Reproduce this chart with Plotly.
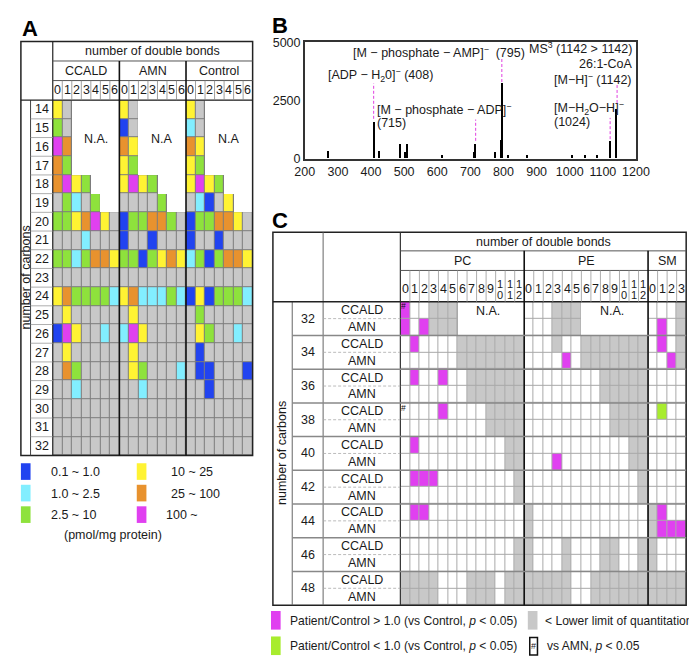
import plotly.graph_objects as go

W, H = 697, 657
FONT = "Liberation Sans, Arial, sans-serif"
TXT = "#1a1a1a"

def px(x):
    return x / W

def py(y):
    return 1 - y / H

# ---------------- Panel A data ----------------
A_groups = ["CCALD", "AMN", "Control"]
A_na_labels = ["N.A.", "N.A", "N.A"]
A_carbons = list(range(14, 33))
A_bonds = list(range(0, 7))
# codes: n = N.A., x = not detected (grey), b/c/g/y/o/m = concentration class
A_ccald = [
    "yxnnnnn", "gxnnnnn", "monnnnn", "ognnnnn", "omygnnn", "xgcxgnn",
    "ggyomyx", "xxxcxxx", "ggcgooy", "xxxxxxx", "yoggggc", "xyxxxxx",
    "bmyxxcx", "xyxxxxx", "xogxxxx", "xxcxxxx", "xxxxxxx", "xxxxxxx", "xxxxxxx",
]
A_amn = [
    "yxnnnnn", "bxnnnnn", "oynnnnn", "ygnnnnn", "ymygnnn", "xxxxgnn",
    "bggoogx", "bxxbxxx", "ggbgyoy", "xxxxxxx", "yocccgc", "xyxxxxx",
    "cmyxxxx", "xyxxxxx", "xygxxxc", "xxcxxxx", "xxxxxxx", "xxxxxxx", "xxxxxxx",
]
A_control = [
    "yxnnnnn", "cxnnnnn", "oynnnnn", "ygnnnnn", "ymygnnn", "xcbxynn",
    "bggooyx", "bxxbxxx", "cgbgooy", "xxxxxxx", "bybgggc", "xgxxxxx",
    "xygxxcx", "xbxxxxx", "xbbxxxb", "xxbxxxx", "xxxxxxx", "xxxxxxx", "xxxxxxx",
]
A_legend_labels = ["0.1 ~ 1.0", "1.0 ~ 2.5", "2.5 ~ 10", "10 ~ 25", "25 ~ 100", "100 ~"]
A_codes = ["x", "b", "c", "g", "y", "o", "m"]
A_colors = ["#C8C8C8", "#2143F0", "#82EEFF", "#8EE23C", "#FFF333", "#E8922E", "#E040F0"]

# ---------------- Panel B data ----------------
B_mz = [270, 408, 423, 486, 503, 507, 614, 712, 715, 775, 791, 795, 812, 872,
        1006, 1045, 1083, 1122, 1140]
B_int = [300, 1550, 300, 600, 280, 600, 140, 280, 600, 280, 780, 3250, 140, 140,
         140, 140, 140, 750, 2140]
B_mark_mz = [408, 716, 795, 1122, 1143]
B_mark_lo = [1720, 775, 3300, 845, 2400]
B_mark_hi = [3240, 1690, 4300, 1760, 3170]
B_xticks = list(range(200, 1201, 100))
B_yticks = [0, 2500, 5000]

# ---------------- Panel C data ----------------
C_carbons = [32, 34, 36, 38, 40, 42, 44, 46, 48]
C_groups = ["CCALD", "AMN"]
C_classes = ["PC", "PE", "SM"]
C_class_bonds = [13, 13, 4]
# codes: w = n.s., x = < LLOQ, m = Patient/Control > 1, g = Patient/Control < 1, n = N.A.
C_PC = [
    "mwwxxxnnnnnnn", "mwmxxxnnnnnnn", "wmwwwwxxxxxxx", "wwwwwwxxxxxxx",
    "wmwwmwwxxxxxx", "wwwwwwwxxxxxx", "wwwwmwwwwxxxx", "wwwwwwwwwxxxx",
    "wmwwwwwwwwwxx", "wwwwwwwwwwwxx", "wmmmwwwwwwwwx", "wwwwwwwwwwwwx",
    "wmmwwwwwwwwww", "wwwwwwwwwwwww", "wwwwwwwwwwwwx", "wwwwwwwwwwwwx",
    "xxxxwwwxxxwxx", "xxxxwwwxxxwxx",
]
C_PE = [
    "wwwxxxnnnnnnn", "wwwxxxnnnnnnn", "wwwxwwxxxxxxx", "wwwwmwxxxxxxx",
    "wwwwwwwwxxxxx", "wwwwwwwwxxxxx", "wwwwwwwwwxxxx", "wwwwwwwwwxxxx",
    "wwwwwwwwwwwxx", "wwwmwwwwwwwxx", "wwwwwwwwwwwwx", "wwwwwwwwwwwwx",
    "xwwwwwwwwwwww", "xwwwwwwwwwwww", "xwwwxwwwxxwwx", "xwwwxwwwxxwwx",
    "xxxxxwwxxxxxx", "xxxxxwwxxxxxx",
]
C_SM = [
    "wwwx", "wmwx", "wmwx", "wwmx", "wwww", "wwww", "wgww", "wwww", "wwww",
    "wwww", "wwww", "wwww", "xmww", "xmmm", "xwww", "xwww", "xxxx", "xxxx",
]
C_hash = [(0, 0), (6, 0)]  # (row index, column index)
C_codes = ["w", "x", "m", "g"]
C_colors = ["#FFFFFF", "#C8C8C8", "#E040F0", "#A8EC2E"]

# ---------------- helpers ----------------
shapes = []
annotations = []

def line(x0, y0, x1, y1, color="#000", w=1.0, dash=None, layer="above"):
    d = dict(type="line", xref="paper", yref="paper", x0=px(x0), y0=py(y0),
             x1=px(x1), y1=py(y1), line=dict(color=color, width=w), layer=layer)
    if dash:
        d["line"]["dash"] = dash
    shapes.append(d)

def rect(x0, y0, x1, y1, fill=None, color=None, w=0, layer="above"):
    shapes.append(dict(type="rect", xref="paper", yref="paper", x0=px(x0), y0=py(y0),
                       x1=px(x1), y1=py(y1), fillcolor=fill or "rgba(0,0,0,0)",
                       line=dict(color=color or "rgba(0,0,0,0)", width=w), layer=layer))

def text(x, y, s, size=12.5, anchor="center", angle=0, bold=False, color=TXT):
    annotations.append(dict(xref="paper", yref="paper", x=px(x), y=py(y), text=s,
                            showarrow=False, xanchor=anchor, yanchor="middle",
                            textangle=angle, borderpad=0,
                            font=dict(family=FONT, size=size, color=color,
                                      weight="bold" if bold else "normal")))

def discrete_scale(colors):
    n = len(colors)
    cs = []
    for i, c in enumerate(colors):
        cs.append([i / n, c])
        cs.append([(i + 1) / n, c])
    return cs

fig = go.Figure()

# ================= Panel A =================
AX0, AX1, AY0, AY1 = 36, 243, 87, 450
a_ncol = len(A_groups) * len(A_bonds)
a_cw = (AX1 - AX0) / a_ncol
a_rh = (AY1 - AY0) / len(A_carbons)

zA, zA_na = [], []
for r in range(len(A_carbons)):
    row, rowna = [], []
    for grp in (A_ccald, A_amn, A_control):
        for ch in grp[r]:
            if ch == "n":
                row.append(None)
                rowna.append(1)
            else:
                row.append(A_codes.index(ch))
                rowna.append(None)
    zA.append(row)
    zA_na.append(rowna)

rect(AX0, AY0, AX1, AY1, fill="#7C7C7C", layer="below")
fig.add_trace(go.Heatmap(z=zA, x=list(range(a_ncol)), y=A_carbons, xaxis="x", yaxis="y",
                         colorscale=discrete_scale(A_colors), zmin=-0.5,
                         zmax=len(A_colors) - 0.5, showscale=False, xgap=1, ygap=1,
                         hoverinfo="skip"))
fig.add_trace(go.Heatmap(z=zA_na, x=list(range(a_ncol)), y=A_carbons, xaxis="x", yaxis="y",
                         colorscale=[[0, "#FFFFFF"], [1, "#FFFFFF"]], showscale=False,
                         hoverinfo="skip"))

# table chrome A
rect(3, 27, AX1, AY1, color="#222", w=1.5)
line(AX0, 27, AX0, AY1, "#222", 1.2)
line(13, AY0, 13, AY1, "#444", 1)
line(3, AY0, AX1, AY0, "#222", 1.2)
line(AX0, 47, AX1, 47, "#555", 1)
line(AX0, 67, AX1, 67, "#555", 1)
for k in range(1, a_ncol):
    xk = AX0 + k * a_cw
    if k % len(A_bonds) == 0:
        line(xk, 47, xk, AY1, "#111", 1.6)
    else:
        line(xk, 67, xk, AY0, "#888", 0.8)
for k in range(1, len(A_carbons)):
    line(13, AY0 + k * a_rh, AX0, AY0 + k * a_rh, "#999", 0.8)

text((AX0 + AX1) / 2, 37, "number of double bonds")
ng = len(A_bonds)
for g, name in enumerate(A_groups):
    text(AX0 + (g * ng + ng / 2) * a_cw, 57, name)
    for d in A_bonds:
        text(AX0 + (g * ng + d + 0.5) * a_cw, 77, str(d))
    annotations.append(dict(xref="x", yref="y", x=g * ng + 4, y=15.6, text=A_na_labels[g],
                            showarrow=False, font=dict(family=FONT, size=12.5, color=TXT)))
for i, c in enumerate(A_carbons):
    text(24.5, AY0 + (i + 0.5) * a_rh, str(c))
text(8, (AY0 + AY1) / 2, "number of carbons", angle=-90)
text(3, 14, "A", size=22, anchor="left", bold=True, color="#000")

# legend A
leg_pos = [(3, 33, 467), (3, 33, 489), (3, 33, 511), (123, 157, 467), (123, 157, 489), (123, 152, 511)]
for i, lab in enumerate(A_legend_labels):
    sx, tx, ty = leg_pos[i]
    rect(sx, ty - 9, sx + 10, ty + 8, fill=A_colors[i + 1])
    text(tx, ty, lab, anchor="left")
text(98, 531, "(pmol/mg protein)")

# ================= Panel B =================
fig.add_trace(go.Bar(x=B_mz, y=B_int, width=4, marker=dict(color="#000", line=dict(width=0)),
                     xaxis="x2", yaxis="y2", hoverinfo="skip"))
mx, my = [], []
for m, lo, hi in zip(B_mark_mz, B_mark_lo, B_mark_hi):
    mx += [m, m, None]
    my += [lo, hi, None]
fig.add_trace(go.Scatter(x=mx, y=my, mode="lines", xaxis="x2", yaxis="y2",
                         line=dict(color="#E040E0", width=1, dash="3px,2px"), hoverinfo="skip"))

def btext(x, y, s, anchor="center"):
    annotations.append(dict(xref="x2", yref="y2", x=x, y=y, text=s, showarrow=False,
                            xanchor=anchor, yanchor="middle", borderpad=0,
                            font=dict(family=FONT, size=12.5, color=TXT)))

btext(605, 4580, "[M − phosphate − AMP]<sup>−</sup>  (795)")
btext(428, 3620, "[ADP − H<sub>2</sub>0]<sup>−</sup> (408)")
btext(414, 2140, "[M − phosphate − ADP]<sup>−</sup>", anchor="left")
btext(414, 1550, "(715)", anchor="left")
btext(1190, 4750, "MS<sup>3</sup> (1142 &gt; 1142)", anchor="right")
btext(1190, 4085, "26:1-CoA", anchor="right")
btext(1190, 3450, "[M−H]<sup>−</sup> (1142)", anchor="right")
btext(948, 2180, "[M−H<sub>2</sub>O−H]<sup>−</sup>", anchor="left")
btext(948, 1580, "(1024)", anchor="left")
text(262, 11, "B", size=22, anchor="left", bold=True, color="#000")

# ================= Panel C =================
CX0, CX1, CY0, CY1 = 396, 692, 293, 603
c_ncol = sum(C_class_bonds)
c_cw = (CX1 - CX0) / c_ncol
c_nrow = len(C_carbons) * len(C_groups)
c_rh = (CY1 - CY0) / c_nrow

zC, zC_na = [], []
for r in range(c_nrow):
    row, rowna = [], []
    for ch in C_PC[r] + C_PE[r] + C_SM[r]:
        if ch == "n":
            row.append(None)
            rowna.append(1)
        else:
            row.append(C_codes.index(ch))
            rowna.append(None)
    zC.append(row)
    zC_na.append(rowna)

rect(CX0, CY0, CX1, CY1, fill="#A9A9A9", layer="below")
fig.add_trace(go.Heatmap(z=zC, x=list(range(c_ncol)), y=list(range(c_nrow)), xaxis="x3",
                         yaxis="y3", colorscale=discrete_scale(C_colors), zmin=-0.5,
                         zmax=len(C_colors) - 0.5, showscale=False, xgap=1, ygap=1,
                         hoverinfo="skip"))
fig.add_trace(go.Heatmap(z=zC_na, x=list(range(c_ncol)), y=list(range(c_nrow)), xaxis="x3",
                         yaxis="y3", colorscale=[[0, "#FFFFFF"], [1, "#FFFFFF"]],
                         showscale=False, hoverinfo="skip"))

# chrome C
rect(264, 222, CX1, CY1, color="#222", w=1.5)
line(284, CY0, 284, CY1, "#666", 1)
line(316, 222, 316, CY1, "#666", 1)
line(CX0, 222, CX0, CY1, "#333", 1.2)
line(CX0, 241, CX1, 241, "#555", 1)
line(CX0, 261, CX1, 261, "#555", 1)
line(264, CY0, CX1, CY0, "#222", 1.3)
bounds = [0]
for n in C_class_bonds:
    bounds.append(bounds[-1] + n)
for k in range(1, c_ncol):
    xk = CX0 + k * c_cw
    if k in bounds:
        line(xk, 241, xk, CY1, "#111", 1.6)
    else:
        line(xk, 261, xk, CY0, "#999", 0.8)
for k in range(1, len(C_carbons)):
    yk = CY0 + 2 * k * c_rh
    line(284, yk, CX1, yk, "#888", 1.5)
for k in range(len(C_carbons)):
    yk = CY0 + (2 * k + 1) * c_rh
    line(316, yk, CX0, yk, "#AAA", 0.8, dash="3px,2px")

text((CX0 + CX1) / 2, 232, "number of double bonds")
for ci, cname in enumerate(C_classes):
    text(CX0 + (bounds[ci] + C_class_bonds[ci] / 2) * c_cw, 251, cname)
    for d in range(C_class_bonds[ci]):
        xc = CX0 + (bounds[ci] + d + 0.5) * c_cw
        if d < 10:
            text(xc, 280, str(d))
        else:
            text(xc, 275, str(d // 10), size=11)
            text(xc, 286.5, str(d % 10), size=11)
for i, c in enumerate(C_carbons):
    text(300, CY0 + (2 * i + 1) * c_rh, str(c))
    for j, gname in enumerate(C_groups):
        text(356, CY0 + (2 * i + j + 0.5) * c_rh, gname)
text(274, (CY0 + CY1) / 2, "number of carbons", angle=-90)
for ci in range(2):
    annotations.append(dict(xref="x3", yref="y3", x=bounds[ci] + 8.7, y=0.05, text="N.A.",
                            showarrow=False, font=dict(family=FONT, size=12.5, color=TXT)))
for (r, cidx) in C_hash:
    annotations.append(dict(xref="x3", yref="y3", x=cidx - 0.15, y=r - 0.22, text="#",
                            showarrow=False, borderpad=0,
                            font=dict(family=FONT, size=8.5, color="#111")))
text(262, 210, "C", size=22, anchor="left", bold=True, color="#000")

# legend C
LEG = 12.1
rect(262, 609, 272, 628, fill=C_colors[2])
text(281, 619, "Patient/Control &gt; 1.0 (vs Control, <i>p</i> &lt; 0.05)", size=LEG, anchor="left")
rect(528, 609, 538, 628, fill=C_colors[1])
text(545, 619, "&lt; Lower limit of quantitation", size=LEG, anchor="left")
rect(262, 635, 272, 654, fill=C_colors[3])
text(281, 645, "Patient/Control &lt; 1.0 (vs Control, <i>p</i> &lt; 0.05)", size=LEG, anchor="left")
rect(530, 636, 538, 654, color="#111", w=1.5)
text(534, 645, "#", size=9)
text(547, 645, "vs AMN, <i>p</i> &lt; 0.05", size=LEG, anchor="left")

# ================= layout =================
hidden = dict(visible=False, showgrid=False, zeroline=False, fixedrange=True)
fig.update_layout(
    width=W, height=H, margin=dict(l=0, r=0, t=0, b=0),
    paper_bgcolor="white", plot_bgcolor="rgba(0,0,0,0)", showlegend=False,
    bargap=0,
    xaxis=dict(domain=[px(AX0), px(AX1)], range=[-0.5, a_ncol - 0.5], anchor="y", **hidden),
    yaxis=dict(domain=[py(AY1), py(AY0)], range=[A_carbons[-1] + 0.5, A_carbons[0] - 0.5],
               anchor="x", **hidden),
    xaxis2=dict(domain=[px(297), px(640)], range=[200, 1200], anchor="y2",
                tickvals=B_xticks, ticks="", showgrid=False, zeroline=False,
                showline=True, mirror=True, linecolor="#333", linewidth=1.5,
                tickfont=dict(family=FONT, size=12.5, color=TXT)),
    yaxis2=dict(domain=[py(147), py(28)], range=[0, 5000], anchor="x2",
                tickvals=B_yticks, ticks="", showgrid=False, zeroline=False,
                showline=True, mirror=True, linecolor="#333", linewidth=1.5,
                tickfont=dict(family=FONT, size=12.5, color=TXT)),
    xaxis3=dict(domain=[px(CX0), px(CX1)], range=[-0.5, c_ncol - 0.5], anchor="y3", **hidden),
    yaxis3=dict(domain=[py(CY1), py(CY0)], range=[c_nrow - 0.5, -0.5], anchor="x3", **hidden),
    shapes=shapes, annotations=annotations,
)
fig.write_html("out.html")
